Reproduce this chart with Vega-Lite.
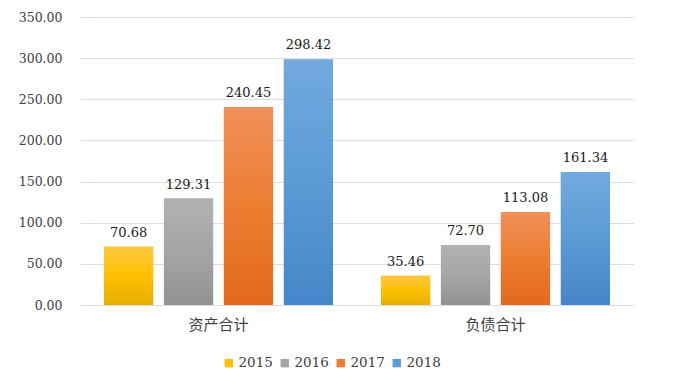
{
  "$schema": "https://vega.github.io/schema/vega-lite/v6.json",
  "autosize": "none",
  "width": 554,
  "height": 288,
  "padding": {"left": 80, "top": 17, "right": 45, "bottom": 76},
  "background": "white",
  "config": {
    "view": {"stroke": null},
    "font": "DejaVu Serif"
  },
  "data": {
    "values": [
      {"cat": "资产合计", "year": "2015", "value": 70.68},
      {"cat": "资产合计", "year": "2016", "value": 129.31},
      {"cat": "资产合计", "year": "2017", "value": 240.45},
      {"cat": "资产合计", "year": "2018", "value": 298.42},
      {"cat": "负债合计", "year": "2015", "value": 35.46},
      {"cat": "负债合计", "year": "2016", "value": 72.70},
      {"cat": "负债合计", "year": "2017", "value": 113.08},
      {"cat": "负债合计", "year": "2018", "value": 161.34}
    ]
  },
  "encoding": {
    "x": {
      "field": "cat", "type": "nominal", "sort": ["资产合计", "负债合计"],
      "scale": {"paddingInner": 0, "paddingOuter": 0},
      "axis": {"title": null, "labelAngle": 0, "domain": false, "ticks": false, "labelPadding": 12,
               "labelFont": "Noto Sans CJK SC", "labelFontSize": 15, "labelColor": "#404040"}
    },
    "xOffset": {
      "field": "year", "type": "nominal", "sort": ["2015", "2016", "2017", "2018"],
      "scale": {"paddingInner": 0.18, "paddingOuter": 0.4}
    },
    "y": {
      "field": "value", "type": "quantitative",
      "scale": {"domain": [0, 350], "nice": false},
      "axis": {"title": null, "values": [0, 50, 100, 150, 200, 250, 300, 350], "format": ".2f",
               "domain": false, "ticks": false, "labelPadding": 18, "labelFontSize": 12.5,
               "labelColor": "#404040", "labelFont": "DejaVu Serif",
               "gridColor": "#D9DDE3", "gridWidth": 1.2}
    }
  },
  "layer": [
    {
      "mark": {"type": "bar"},
      "encoding": {
        "color": {
          "field": "year", "type": "nominal",
          "scale": {"domain": ["2015", "2016", "2017", "2018"], "range": ["#FFC000", "#A5A5A5", "#ED7D31", "#5B9BD5"]},
          "legend": {"title": null, "orient": "none", "direction": "horizontal", "legendX": 142, "legendY": 339,
                     "symbolType": "square", "symbolSize": 70, "symbolStrokeWidth": 0, "symbolOpacity": 1,
                     "labelFontSize": 13.5, "labelFont": "DejaVu Serif", "labelColor": "#404040",
                     "columnPadding": 5, "labelOffset": 3}
        }
      }
    },
    {
      "transform": [{"filter": "datum.year == '2015'"}],
      "mark": {"type": "bar", "fill": {"gradient": "linear", "x1": 0, "y1": 0, "x2": 0, "y2": 1,
        "stops": [{"offset": 0, "color": "#FFC741"}, {"offset": 0.5, "color": "#FFC000"}, {"offset": 1, "color": "#E5AF00"}]}}
    },
    {
      "transform": [{"filter": "datum.year == '2016'"}],
      "mark": {"type": "bar", "fill": {"gradient": "linear", "x1": 0, "y1": 0, "x2": 0, "y2": 1,
        "stops": [{"offset": 0, "color": "#B1B1B1"}, {"offset": 0.5, "color": "#A5A5A5"}, {"offset": 1, "color": "#929292"}]}}
    },
    {
      "transform": [{"filter": "datum.year == '2017'"}],
      "mark": {"type": "bar", "fill": {"gradient": "linear", "x1": 0, "y1": 0, "x2": 0, "y2": 1,
        "stops": [{"offset": 0, "color": "#F1905A"}, {"offset": 0.5, "color": "#ED7D31"}, {"offset": 1, "color": "#E2691C"}]}}
    },
    {
      "transform": [{"filter": "datum.year == '2018'"}],
      "mark": {"type": "bar", "fill": {"gradient": "linear", "x1": 0, "y1": 0, "x2": 0, "y2": 1,
        "stops": [{"offset": 0, "color": "#72A9DF"}, {"offset": 0.5, "color": "#5B9BD5"}, {"offset": 1, "color": "#4486C8"}]}}
    },
    {
      "mark": {"type": "text", "baseline": "bottom", "dy": -7, "fontSize": 13, "font": "DejaVu Serif", "color": "#1a1a1a"},
      "encoding": {
        "text": {"field": "value", "type": "quantitative", "format": ".2f"}
      }
    }
  ]
}
